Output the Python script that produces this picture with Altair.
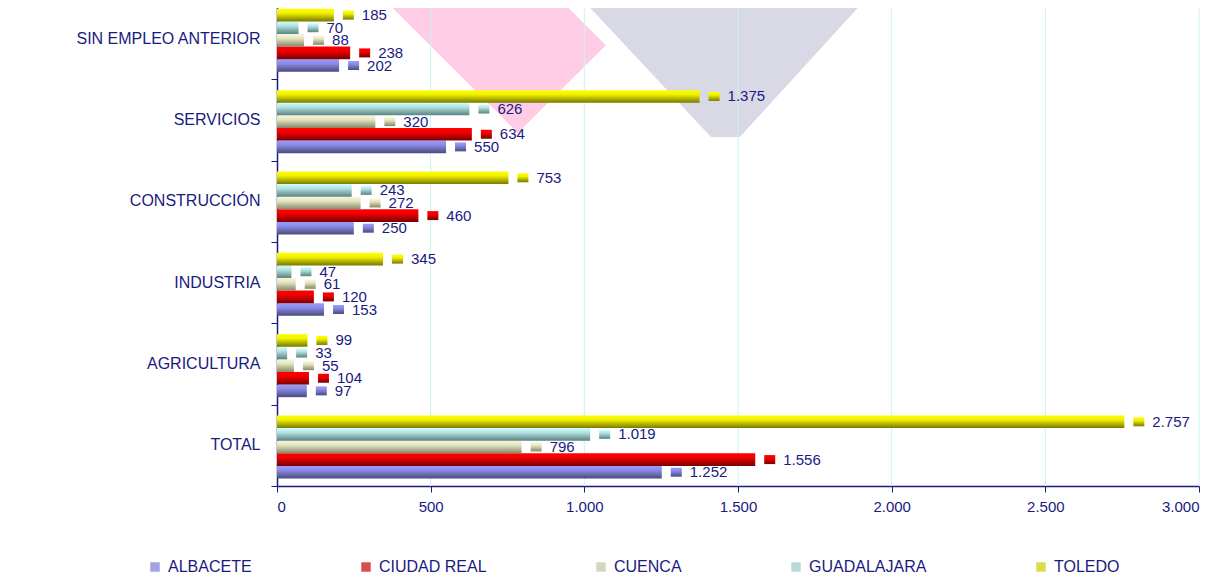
import altair as alt
import pandas as pd

# ---------------- data ----------------
categories = ["SIN EMPLEO ANTERIOR", "SERVICIOS", "CONSTRUCCIÓN", "INDUSTRIA", "AGRICULTURA", "TOTAL"]
provinces = ["ALBACETE", "CIUDAD REAL", "CUENCA", "GUADALAJARA", "TOLEDO"]

albacete = [202, 550, 250, 153, 97, 1252]
ciudad_real = [238, 634, 460, 120, 104, 1556]
cuenca = [88, 320, 272, 61, 55, 796]
guadalajara = [70, 626, 243, 47, 33, 1019]
toledo = [185, 1375, 753, 345, 99, 2757]

x_ticks = [0, 500, 1000, 1500, 2000, 2500, 3000]
title_text = "EN OCTUBRE DE 2007"

# background watermark outlines (x in value units, y in category steps from top)
pink_x = [254, 784, 826, 1070]
pink_top = [-0.34, -0.34, -0.34, 0.58]
pink_bottom = [-0.34, 1.66, 1.50, 0.58]
grey_x = [905, 1412, 1506, 2001]
grey_top = [-0.34, -0.34, -0.34, -0.34]
grey_bottom = [-0.34, 1.71, 1.71, -0.34]

# ---------------- styles ----------------
NAVY = "#1a1a80"
FONT = "Liberation Sans"


def grad(stops):
    return {"gradient": "linear", "x1": 0, "y1": 0, "x2": 0, "y2": 1,
            "stops": [{"offset": o, "color": c} for o, c in stops]}


gradients = {
    "ALBACETE": grad([(0, "#9c9cff"), (0.35, "#8a8ae8"), (1, "#4a4a7c")]),
    "CIUDAD REAL": grad([(0, "#ff0000"), (0.35, "#f00000"), (1, "#7a0000")]),
    "CUENCA": grad([(0, "#f8f8d8"), (0.35, "#e4e4c0"), (1, "#86866a")]),
    "GUADALAJARA": grad([(0, "#d0ffff"), (0.35, "#b4e0e0"), (1, "#5a8282")]),
    "TOLEDO": grad([(0, "#ffff00"), (0.35, "#f0f000"), (1, "#787800")]),
}
legend_colors = ["#7c7cd4", "#cc0000", "#c4c4a4", "#98caca", "#cccc00"]

series = {"ALBACETE": albacete, "CIUDAD REAL": ciudad_real, "CUENCA": cuenca,
          "GUADALAJARA": guadalajara, "TOLEDO": toledo}
rows = []
for p in provinces:
    for c, v in zip(categories, series[p]):
        rows.append({"cat": c, "prov": p, "value": v})
df = pd.DataFrame(rows)

x_scale = alt.Scale(domain=[0, 3000], nice=False, zero=True)
x_axis = alt.Axis(values=x_ticks, grid=False, tickSize=6, title=None,
                  labelExpr="replace(format(datum.value, ','), ',', '.')",
                  domainColor=NAVY, tickColor=NAVY, labelColor=NAVY,
                  labelFont=FONT, labelFontSize=15, labelPadding=7, domainWidth=1.5)


def xenc(field):
    return alt.X(f"{field}:Q", scale=x_scale, axis=x_axis)


y_enc = alt.Y("cat:N", title=None,
              scale=alt.Scale(domain=categories, paddingInner=0, paddingOuter=0),
              axis=alt.Axis(tickBand="extent", tickSize=6, grid=False,
                            domainColor=NAVY, tickColor=NAVY, labelColor=NAVY,
                            labelFont=FONT, labelFontSize=16, labelPadding=11,
                            labelOffset=-0.5, domainWidth=1.5, labelLimit=300))
yoff = alt.YOffset("prov:N",
                   scale=alt.Scale(domain=provinces[::-1], paddingInner=0,
                                   paddingOuter=0.727, align=0.59))

base = alt.Chart(df)

bars = []
markers = []
for p in provinces:
    bars.append(
        base.transform_filter(alt.datum.prov == p)
        .mark_bar(fill=gradients[p], strokeWidth=0)
        .encode(x=xenc("value"), y=y_enc, yOffset=yoff)
    )
    markers.append(
        base.transform_filter(alt.datum.prov == p)
        .mark_bar(fill=gradients[p], strokeWidth=0, height=9, xOffset=9, x2Offset=20)
        .encode(x=xenc("value"), x2=alt.X2("value"), y=y_enc, yOffset=yoff)
    )

labels = (
    base.transform_calculate(label="replace(format(datum.value, ','), ',', '.')")
    .mark_text(align="left", baseline="middle", dx=28, dy=0,
               font=FONT, fontSize=15, color=NAVY)
    .encode(x=xenc("value"), y=y_enc, yOffset=yoff, text="label:N")
)

legend_layer = (
    base.transform_filter("false")
    .mark_square(size=90)
    .encode(color=alt.Color("prov:N",
                            scale=alt.Scale(domain=provinces, range=legend_colors),
                            legend=alt.Legend(title=None, orient="none", direction="horizontal",
                                              legendX=-130, legendY=561, columns=5,
                                              columnPadding=106, symbolType="square",
                                              symbolSize=90, symbolOffset=0,
                                              labelFont=FONT, labelFontSize=16,
                                              labelColor=NAVY, labelOffset=5, padding=0)))
)

inner = alt.layer(*bars, *markers, labels, legend_layer)

wy_scale = alt.Scale(domain=[0, 6], reverse=True, nice=False, zero=False)
pink = (
    alt.Chart(pd.DataFrame({"wx": pink_x, "wt": pink_top, "wb": pink_bottom}))
    .mark_area(color="#ffcce6", opacity=1)
    .encode(x=xenc("wx"), y=alt.Y("wt:Q", scale=wy_scale, axis=None), y2="wb")
)
grey = (
    alt.Chart(pd.DataFrame({"wx": grey_x, "wt": grey_top, "wb": grey_bottom}))
    .mark_area(color="#d9d9e6", opacity=1)
    .encode(x=xenc("wx"), y=alt.Y("wt:Q", scale=wy_scale, axis=None), y2="wb")
)
grid = (
    alt.Chart(pd.DataFrame({"tick": x_ticks[1:]}))
    .mark_rule(color="#c8f4f4", strokeWidth=1)
    .encode(x=xenc("tick"))
)

chart = (
    alt.layer(pink, grey, grid, inner)
    .resolve_scale(y="independent")
    .properties(
        width=922, height=488,
        autosize=alt.AutoSizeParams(type="none"),
        padding={"left": 269, "top": -10, "right": 21, "bottom": 90},
        background="white",
        title=alt.TitleParams(title_text, frame="group", anchor="middle",
                              baseline="alphabetic", offset=0, dx=-98, dy=7,
                              font=FONT, fontSize=22, fontWeight="bold", color=NAVY),
    )
    .configure_view(stroke=None)
)

chart.save("out.html", embed_options={"renderer": "svg", "actions": False})
